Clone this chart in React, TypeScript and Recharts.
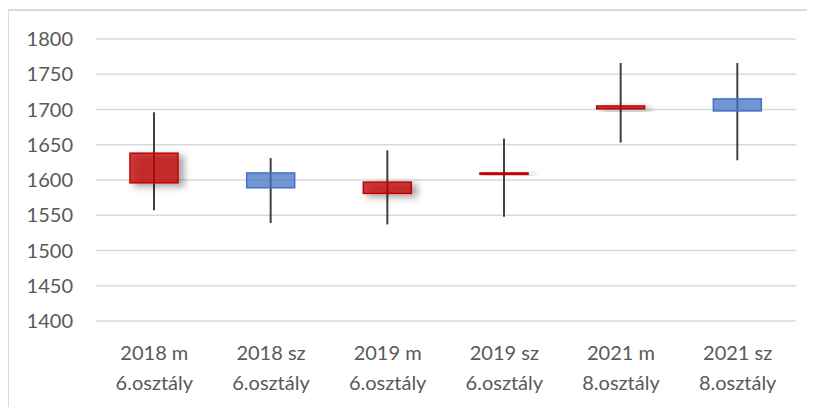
import React from "react";
import { ComposedChart, Bar, XAxis, YAxis, CartesianGrid } from "recharts";

const categories = ["2018 m|6.osztály", "2018 sz|6.osztály", "2019 m|6.osztály", "2019 sz|6.osztály", "2021 m|8.osztály", "2021 sz|8.osztály"];
const openValues = [1596, 1610, 1581, 1608, 1701, 1715];
const closeValues = [1638, 1589, 1597, 1610, 1705, 1698];
const highValues = [1696, 1631, 1642, 1659, 1766, 1766];
const lowValues = [1557, 1539, 1537, 1548, 1653, 1628];
const yTicks = [1400, 1450, 1500, 1550, 1600, 1650, 1700, 1750, 1800];

const data = categories.map((c, i) => ({
  name: c,
  open: openValues[i],
  close: closeValues[i],
  high: highValues[i],
  low: lowValues[i],
  range: [lowValues[i], highValues[i]],
}));

const FONT = "Lato, 'Open Sans', sans-serif";
const TEXT = "#595959";

const Candle = (props: any) => {
  const { x, y, width, height, payload } = props;
  if (x == null || y == null) return null;
  const { open, close, high, low } = payload;
  const k = height / (high - low);
  const cx = x + width / 2;
  const yOpen = y + (high - open) * k;
  const yClose = y + (high - close) * k;
  const top = Math.min(yOpen, yClose);
  const h = Math.max(Math.abs(yOpen - yClose), 1);
  const up = close >= open;
  return (
    <g>
      <line x1={cx} x2={cx} y1={y} y2={y + height} stroke="#404040" strokeWidth={2} />
      <rect
        x={x}
        y={top}
        width={width}
        height={h}
        fill={up ? "#C00000" : "#4472C4"}
        fillOpacity={0.75}
        stroke={up ? "#C00000" : "#4472C4"}
        strokeWidth={1.5}
        filter={up ? "url(#redShadow)" : undefined}
      />
    </g>
  );
};

const XTick = (props: any) => {
  const { x, y, payload } = props;
  const [l1, l2] = String(payload.value).split("|");
  return (
    <text x={x} y={y} textAnchor="middle" fill={TEXT} fontFamily={FONT} fontSize={20}>
      <tspan x={x} dy={39}>{l1}</tspan>
      <tspan x={x} dy={30}>{l2}</tspan>
    </text>
  );
};

export default function App() {
  return (
    <div style={{ position: "relative", width: 807, height: 399 }}>
      <style>{"html,body{overflow:hidden}"}</style>
      <div style={{ position: "absolute", left: -1, top: 1, width: 2, height: 420, background: "#d9d9d9" }} />
      <div style={{ position: "absolute", left: -1, top: 1, width: 820, height: 2, background: "#d9d9d9" }} />
      <div style={{ position: "absolute", left: 0, top: 2 }}>
        <ComposedChart
          width={807}
          height={397}
          data={data}
          margin={{ top: 29, right: 19, bottom: 26, left: 0 }}
        >
          <defs>
            <filter id="redShadow" x="-50%" y="-100%" width="200%" height="300%">
              <feDropShadow dx={5} dy={3} stdDeviation={3.5} floodColor="#000" floodOpacity={0.45} />
            </filter>
          </defs>
          <CartesianGrid vertical={false} stroke="#d9d9d9" strokeWidth={1.3} />
          <XAxis
            dataKey="name"
            axisLine={false}
            tickLine={false}
            tickSize={0}
            tickMargin={0}
            height={60}
            interval={0}
            tick={<XTick />}
          />
          <YAxis
            domain={[1400, 1800]}
            ticks={yTicks}
            axisLine={false}
            tickLine={false}
            tickSize={0}
            tickMargin={23}
            width={88}
            tick={{ fill: TEXT, fontFamily: FONT, fontSize: 20 }}
          />
          <Bar dataKey="range" barSize={48} shape={<Candle />} isAnimationActive={false} />
        </ComposedChart>
      </div>
    </div>
  );
}
